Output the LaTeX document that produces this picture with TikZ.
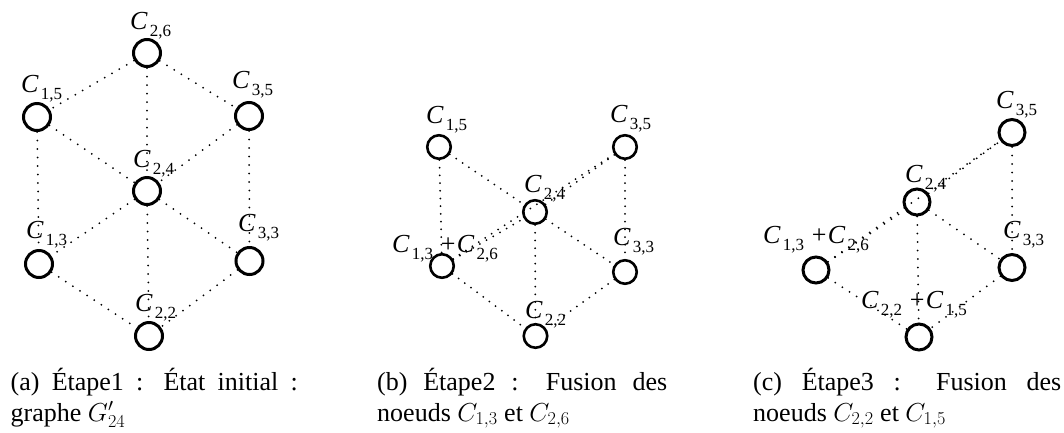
\RequirePackage{fix-cm}
\documentclass[tikz,border=0pt]{standalone}
\usepackage[no-math]{fontspec}
\setmainfont{Liberation Serif}
\newcommand{\lbl}[1]{\textit{C}\kern0.08em\raisebox{-0.3em}{\fontsize{17}{18}\selectfont #1}}
\newcommand{\pls}{\hspace{0.3em}+\hspace{0.05em}}
\newcommand{\captwo}[3]{\parbox[t]{#1}{\makebox[#1][s]{#2}\\#3}}
\begin{document}
\begin{tikzpicture}[x=1pt,y=-1pt,
  vtxa/.style={circle,draw,inner sep=0pt,line width=3pt,minimum size=27pt},
  vtxb/.style={circle,draw,inner sep=0pt,line width=2.6pt,minimum size=23.5pt},
  vtxc/.style={circle,draw,inner sep=0pt,line width=3pt,minimum size=26pt},
  lab/.style={anchor=base west,inner sep=0pt,font=\fontsize{26}{28}\selectfont},
  captxt/.style={anchor=base west,inner sep=0pt,font=\fontsize{26}{31}\selectfont},
  dots/.style={line width=2pt,line cap=round,dash pattern=on 0pt off 8.5pt},
  dotsb/.style={line width=2pt,line cap=round,dash pattern=on 0pt off 7.7pt}]
\useasboundingbox (0,0) rectangle (1064,432);

% ---------- (a) ----------
\node[vtxa] (a26) at (147,53) {};
\node[vtxa] (a15) at (37,117) {};
\node[vtxa] (a35) at (249,116) {};
\node[vtxa] (a24) at (147,191) {};
\node[vtxa] (a13) at (39,264) {};
\node[vtxa] (a33) at (249.5,261) {};
\node[vtxa] (a22) at (149,336) {};
\draw[dots] (a26) -- (a15);
\draw[dots] (a26) -- (a24);
\draw[dots] (a26) -- (a35);
\draw[dots] (a15) -- (a13);
\draw[dots] (a15) -- (a24);
\draw[dots] (a35) -- (a24);
\draw[dots] (a35) -- (a33);
\draw[dots] (a24) -- (a13);
\draw[dots] (a24) -- (a22);
\draw[dots] (a24) -- (a33);
\draw[dots] (a13) -- (a22);
\draw[dots] (a33) -- (a22);
\node[lab] (la26) at (130,29) {\lbl{2,6}};
\node[lab] (la15) at (21,92) {\lbl{1,5}};
\node[lab] (la35) at (232,88) {\lbl{3,5}};
\node[lab] (la24) at (133,167) {\lbl{2,4}};
\node[lab] (la13) at (26,238) {\lbl{1,3}};
\node[lab] (la33) at (238,231) {\lbl{3,3}};
\node[lab] (la22) at (135,311) {\lbl{2,2}};

% ---------- (b) ----------
\node[vtxb] (b15) at (439,147) {};
\node[vtxb] (b35) at (625,147) {};
\node[vtxb] (b24) at (535,212) {};
\node[vtxb] (b13) at (442,266) {};
\node[vtxb] (b33) at (625,272) {};
\node[vtxb] (b22) at (535.5,336) {};
\draw[dotsb] (b15) -- (b13);
\draw[dotsb] (b15) -- (b24);
\draw[dotsb] (b24) -- (b35);
\draw[dotsb] (b13) -- (b35);
\draw[dotsb] (b13) -- (b24);
\draw[dotsb] (b35) -- (b33);
\draw[dotsb] (b24) -- (b22);
\draw[dotsb] (b24) -- (b33);
\draw[dotsb] (b13) -- (b22);
\draw[dotsb] (b33) -- (b22);
\node[lab] (lb15) at (426,123) {\lbl{1,5}};
\node[lab] (lb35) at (610,122) {\lbl{3,5}};
\node[lab] (lb24) at (524,192) {\lbl{2,4}};
\node[lab] (lb13) at (392,252) {\lbl{1,3}\pls\lbl{2,6}};
\node[lab] (lb33) at (613,245) {\lbl{3,3}};
\node[lab] (lb22) at (525,318) {\lbl{2,2}};

% ---------- (c) ----------
\node[vtxc] (c35) at (1012,132.5) {};
\node[vtxc] (c24) at (917,202) {};
\node[vtxc] (c13) at (816,270) {};
\node[vtxc] (c33) at (1012,267.5) {};
\node[vtxc] (c22) at (919,337) {};
\draw[dots] (c13) -- (c24);
\draw[dots] (c24) -- (c35);
\draw[dots] (c13) -- (c35);
\draw[dots] (c35) -- (c33);
\draw[dots] (c24) -- (c22);
\draw[dots] (c24) -- (c33);
\draw[dots] (c13) -- (c22);
\draw[dots] (c33) -- (c22);
\node[lab] (lc35) at (996,108) {\lbl{3,5}};
\node[lab] (lc24) at (905,182) {\lbl{2,4}};
\node[lab] (lc13) at (763,243) {\lbl{1,3}\pls\lbl{2,6}};
\node[lab] (lc33) at (1003,238) {\lbl{3,3}};
\node[lab] (lc22) at (861,308) {\lbl{2,2}\pls\lbl{1,5}};

% ---------- captions ----------
\node[captxt] (capa) at (10.5,390) {\captwo{287pt}{(a) Étape1 : État initial :}{graphe $G'_{24}$}};
\node[captxt] (capb) at (377,390) {\captwo{290pt}{(b) Étape2 : Fusion des}{noeuds $C_{1,3}$ et $C_{2,6}$}};
\node[captxt] (capc) at (753,390) {\captwo{308pt}{(c) Étape3 : Fusion des}{noeuds $C_{2,2}$ et $C_{1,5}$}};
\end{tikzpicture}
\end{document}
